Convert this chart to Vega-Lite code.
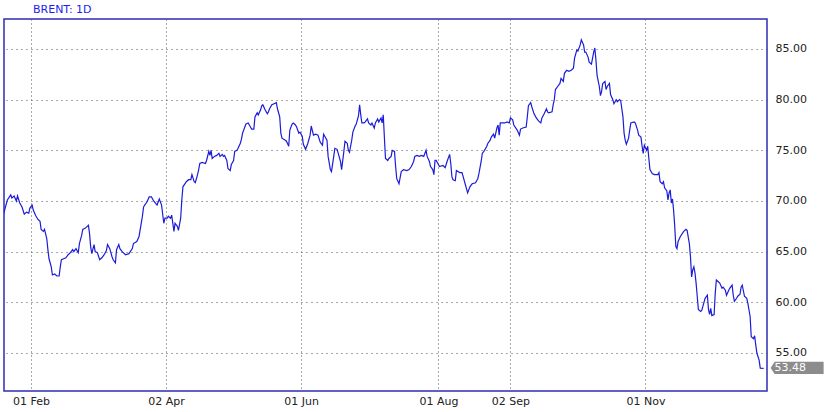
{
  "$schema": "https://vega.github.io/schema/vega-lite/v6.json",
  "width": 763,
  "height": 372,
  "autosize": {"type": "none"},
  "padding": {"left": 4, "top": 19, "right": 63, "bottom": 21},
  "background": "#ffffff",
  "title": {"text": "BRENT: 1D", "anchor": "start", "dx": 29, "offset": 4, "fontSize": 11, "fontWeight": "normal", "color": "#1d1df0", "font": "DejaVu Sans"},
  "config": {"view": {"stroke": "#2c2cb4", "strokeWidth": 1.5}, "font": "DejaVu Sans"},
  "data": {"values": [
    {"date": "2018-01-20T00:00", "price": 68.8},
    {"date": "2018-01-20T12:00", "price": 69.3},
    {"date": "2018-01-21T12:00", "price": 70.1},
    {"date": "2018-01-23T00:00", "price": 70.6},
    {"date": "2018-01-23T12:00", "price": 70.3},
    {"date": "2018-01-24T12:00", "price": 70.5},
    {"date": "2018-01-25T12:00", "price": 70.0},
    {"date": "2018-01-26T00:00", "price": 70.5},
    {"date": "2018-01-27T00:00", "price": 69.8},
    {"date": "2018-01-28T00:00", "price": 69.4},
    {"date": "2018-01-29T00:00", "price": 68.7},
    {"date": "2018-01-30T00:00", "price": 68.9},
    {"date": "2018-01-31T00:00", "price": 68.8},
    {"date": "2018-01-31T12:00", "price": 69.3},
    {"date": "2018-02-01T12:00", "price": 69.6},
    {"date": "2018-02-02T00:00", "price": 69.1},
    {"date": "2018-02-03T00:00", "price": 68.6},
    {"date": "2018-02-04T00:00", "price": 68.2},
    {"date": "2018-02-05T00:00", "price": 68.0},
    {"date": "2018-02-05T12:00", "price": 67.2},
    {"date": "2018-02-06T12:00", "price": 67.0},
    {"date": "2018-02-07T00:00", "price": 67.2},
    {"date": "2018-02-08T00:00", "price": 66.3},
    {"date": "2018-02-08T12:00", "price": 65.2},
    {"date": "2018-02-09T00:00", "price": 64.3},
    {"date": "2018-02-10T00:00", "price": 63.5},
    {"date": "2018-02-10T12:00", "price": 62.7},
    {"date": "2018-02-11T12:00", "price": 62.8},
    {"date": "2018-02-12T12:00", "price": 62.6},
    {"date": "2018-02-13T12:00", "price": 62.6},
    {"date": "2018-02-14T00:00", "price": 63.5},
    {"date": "2018-02-14T12:00", "price": 64.2},
    {"date": "2018-02-15T12:00", "price": 64.3},
    {"date": "2018-02-16T12:00", "price": 64.4},
    {"date": "2018-02-17T12:00", "price": 64.7},
    {"date": "2018-02-18T12:00", "price": 64.9},
    {"date": "2018-02-19T12:00", "price": 65.2},
    {"date": "2018-02-20T00:00", "price": 65.0},
    {"date": "2018-02-21T00:00", "price": 65.3},
    {"date": "2018-02-22T00:00", "price": 64.9},
    {"date": "2018-02-22T12:00", "price": 65.8},
    {"date": "2018-02-23T12:00", "price": 66.6},
    {"date": "2018-02-24T00:00", "price": 67.2},
    {"date": "2018-02-25T00:00", "price": 67.3},
    {"date": "2018-02-26T00:00", "price": 67.5},
    {"date": "2018-02-26T12:00", "price": 67.6},
    {"date": "2018-02-27T00:00", "price": 66.8},
    {"date": "2018-02-27T12:00", "price": 65.5},
    {"date": "2018-02-28T00:00", "price": 64.8},
    {"date": "2018-03-01T00:00", "price": 65.7},
    {"date": "2018-03-01T12:00", "price": 65.0},
    {"date": "2018-03-02T12:00", "price": 64.9},
    {"date": "2018-03-03T12:00", "price": 64.2},
    {"date": "2018-03-04T12:00", "price": 64.4},
    {"date": "2018-03-05T12:00", "price": 64.7},
    {"date": "2018-03-06T12:00", "price": 65.1},
    {"date": "2018-03-07T00:00", "price": 65.7},
    {"date": "2018-03-08T00:00", "price": 65.3},
    {"date": "2018-03-09T00:00", "price": 64.5},
    {"date": "2018-03-09T12:00", "price": 64.2},
    {"date": "2018-03-10T12:00", "price": 63.9},
    {"date": "2018-03-11T00:00", "price": 65.2},
    {"date": "2018-03-12T00:00", "price": 65.7},
    {"date": "2018-03-12T12:00", "price": 65.3},
    {"date": "2018-03-13T12:00", "price": 65.0},
    {"date": "2018-03-15T00:00", "price": 64.7},
    {"date": "2018-03-16T12:00", "price": 64.8},
    {"date": "2018-03-18T00:00", "price": 65.3},
    {"date": "2018-03-18T12:00", "price": 65.8},
    {"date": "2018-03-20T00:00", "price": 66.0},
    {"date": "2018-03-21T00:00", "price": 66.5},
    {"date": "2018-03-22T12:00", "price": 68.5},
    {"date": "2018-03-23T00:00", "price": 69.4},
    {"date": "2018-03-23T12:00", "price": 69.6},
    {"date": "2018-03-24T12:00", "price": 69.9},
    {"date": "2018-03-25T12:00", "price": 70.4},
    {"date": "2018-03-26T12:00", "price": 70.4},
    {"date": "2018-03-27T12:00", "price": 70.0},
    {"date": "2018-03-29T00:00", "price": 69.6},
    {"date": "2018-03-30T00:00", "price": 70.2},
    {"date": "2018-03-31T00:00", "price": 69.6},
    {"date": "2018-04-01T00:00", "price": 67.8},
    {"date": "2018-04-01T12:00", "price": 68.3},
    {"date": "2018-04-02T12:00", "price": 68.3},
    {"date": "2018-04-03T00:00", "price": 68.5},
    {"date": "2018-04-04T00:00", "price": 68.3},
    {"date": "2018-04-04T12:00", "price": 68.6},
    {"date": "2018-04-05T12:00", "price": 67.0},
    {"date": "2018-04-06T00:00", "price": 67.8},
    {"date": "2018-04-07T00:00", "price": 67.5},
    {"date": "2018-04-07T12:00", "price": 67.1},
    {"date": "2018-04-08T12:00", "price": 68.3},
    {"date": "2018-04-09T00:00", "price": 70.1},
    {"date": "2018-04-09T12:00", "price": 71.4},
    {"date": "2018-04-11T00:00", "price": 71.9},
    {"date": "2018-04-12T00:00", "price": 72.1},
    {"date": "2018-04-13T00:00", "price": 72.1},
    {"date": "2018-04-13T12:00", "price": 72.6},
    {"date": "2018-04-14T12:00", "price": 71.9},
    {"date": "2018-04-15T00:00", "price": 71.8},
    {"date": "2018-04-16T00:00", "price": 72.6},
    {"date": "2018-04-16T12:00", "price": 73.1},
    {"date": "2018-04-17T00:00", "price": 73.7},
    {"date": "2018-04-18T00:00", "price": 73.8},
    {"date": "2018-04-19T12:00", "price": 73.7},
    {"date": "2018-04-20T00:00", "price": 74.0},
    {"date": "2018-04-21T00:00", "price": 74.9},
    {"date": "2018-04-21T12:00", "price": 74.5},
    {"date": "2018-04-22T00:00", "price": 75.0},
    {"date": "2018-04-22T12:00", "price": 74.2},
    {"date": "2018-04-23T12:00", "price": 74.4},
    {"date": "2018-04-24T12:00", "price": 74.5},
    {"date": "2018-04-25T12:00", "price": 74.7},
    {"date": "2018-04-26T00:00", "price": 74.4},
    {"date": "2018-04-27T00:00", "price": 74.6},
    {"date": "2018-04-27T12:00", "price": 74.4},
    {"date": "2018-04-28T00:00", "price": 74.5},
    {"date": "2018-04-29T00:00", "price": 74.0},
    {"date": "2018-04-29T12:00", "price": 73.2},
    {"date": "2018-04-30T12:00", "price": 73.0},
    {"date": "2018-05-01T00:00", "price": 73.6},
    {"date": "2018-05-02T00:00", "price": 74.0},
    {"date": "2018-05-02T12:00", "price": 74.9},
    {"date": "2018-05-03T12:00", "price": 75.0},
    {"date": "2018-05-04T00:00", "price": 75.2},
    {"date": "2018-05-05T00:00", "price": 75.7},
    {"date": "2018-05-05T12:00", "price": 76.1},
    {"date": "2018-05-06T00:00", "price": 76.7},
    {"date": "2018-05-07T00:00", "price": 77.3},
    {"date": "2018-05-07T12:00", "price": 77.6},
    {"date": "2018-05-08T12:00", "price": 77.7},
    {"date": "2018-05-09T12:00", "price": 77.3},
    {"date": "2018-05-10T00:00", "price": 77.1},
    {"date": "2018-05-11T00:00", "price": 77.1},
    {"date": "2018-05-11T12:00", "price": 78.3},
    {"date": "2018-05-12T12:00", "price": 78.7},
    {"date": "2018-05-13T00:00", "price": 78.5},
    {"date": "2018-05-14T00:00", "price": 79.0},
    {"date": "2018-05-14T12:00", "price": 79.4},
    {"date": "2018-05-15T00:00", "price": 79.5},
    {"date": "2018-05-16T00:00", "price": 79.0},
    {"date": "2018-05-17T00:00", "price": 78.6},
    {"date": "2018-05-17T12:00", "price": 78.8},
    {"date": "2018-05-18T00:00", "price": 79.1},
    {"date": "2018-05-19T00:00", "price": 79.5},
    {"date": "2018-05-20T00:00", "price": 79.6},
    {"date": "2018-05-21T00:00", "price": 79.7},
    {"date": "2018-05-21T12:00", "price": 79.1},
    {"date": "2018-05-22T12:00", "price": 78.3},
    {"date": "2018-05-23T00:00", "price": 76.7},
    {"date": "2018-05-23T12:00", "price": 76.2},
    {"date": "2018-05-25T00:00", "price": 76.0},
    {"date": "2018-05-25T12:00", "price": 75.9},
    {"date": "2018-05-26T12:00", "price": 75.4},
    {"date": "2018-05-27T00:00", "price": 77.0},
    {"date": "2018-05-28T00:00", "price": 77.6},
    {"date": "2018-05-28T12:00", "price": 77.7},
    {"date": "2018-05-29T12:00", "price": 77.5},
    {"date": "2018-05-30T00:00", "price": 77.3},
    {"date": "2018-05-31T00:00", "price": 76.7},
    {"date": "2018-05-31T12:00", "price": 76.8},
    {"date": "2018-06-01T12:00", "price": 76.4},
    {"date": "2018-06-02T00:00", "price": 75.6},
    {"date": "2018-06-03T00:00", "price": 75.1},
    {"date": "2018-06-04T00:00", "price": 75.7},
    {"date": "2018-06-05T00:00", "price": 76.5},
    {"date": "2018-06-05T12:00", "price": 77.4},
    {"date": "2018-06-06T12:00", "price": 76.5},
    {"date": "2018-06-07T12:00", "price": 76.6},
    {"date": "2018-06-08T12:00", "price": 76.5},
    {"date": "2018-06-09T12:00", "price": 75.8},
    {"date": "2018-06-10T12:00", "price": 75.5},
    {"date": "2018-06-11T00:00", "price": 76.6},
    {"date": "2018-06-12T00:00", "price": 76.2},
    {"date": "2018-06-12T12:00", "price": 76.0},
    {"date": "2018-06-13T00:00", "price": 74.4},
    {"date": "2018-06-14T00:00", "price": 73.1},
    {"date": "2018-06-14T12:00", "price": 72.9},
    {"date": "2018-06-15T12:00", "price": 74.4},
    {"date": "2018-06-16T00:00", "price": 75.2},
    {"date": "2018-06-17T00:00", "price": 75.1},
    {"date": "2018-06-17T12:00", "price": 74.7},
    {"date": "2018-06-18T12:00", "price": 73.9},
    {"date": "2018-06-19T00:00", "price": 73.1},
    {"date": "2018-06-20T00:00", "price": 74.9},
    {"date": "2018-06-20T12:00", "price": 75.9},
    {"date": "2018-06-21T12:00", "price": 75.7},
    {"date": "2018-06-22T00:00", "price": 75.0},
    {"date": "2018-06-22T12:00", "price": 74.8},
    {"date": "2018-06-23T12:00", "price": 76.0},
    {"date": "2018-06-24T00:00", "price": 76.8},
    {"date": "2018-06-25T00:00", "price": 77.4},
    {"date": "2018-06-25T12:00", "price": 77.6},
    {"date": "2018-06-26T12:00", "price": 78.4},
    {"date": "2018-06-27T00:00", "price": 79.5},
    {"date": "2018-06-27T12:00", "price": 78.5},
    {"date": "2018-06-28T00:00", "price": 77.7},
    {"date": "2018-06-29T00:00", "price": 77.7},
    {"date": "2018-06-29T12:00", "price": 77.8},
    {"date": "2018-06-30T12:00", "price": 78.1},
    {"date": "2018-07-01T00:00", "price": 77.7},
    {"date": "2018-07-02T00:00", "price": 77.5},
    {"date": "2018-07-02T12:00", "price": 77.7},
    {"date": "2018-07-03T12:00", "price": 77.2},
    {"date": "2018-07-04T00:00", "price": 77.7},
    {"date": "2018-07-05T00:00", "price": 78.1},
    {"date": "2018-07-05T12:00", "price": 77.8},
    {"date": "2018-07-06T12:00", "price": 78.2},
    {"date": "2018-07-07T00:00", "price": 77.7},
    {"date": "2018-07-07T12:00", "price": 78.5},
    {"date": "2018-07-08T00:00", "price": 76.3},
    {"date": "2018-07-08T12:00", "price": 74.2},
    {"date": "2018-07-09T12:00", "price": 74.0},
    {"date": "2018-07-10T00:00", "price": 74.2},
    {"date": "2018-07-11T00:00", "price": 74.4},
    {"date": "2018-07-11T12:00", "price": 75.0},
    {"date": "2018-07-12T12:00", "price": 74.9},
    {"date": "2018-07-13T00:00", "price": 73.4},
    {"date": "2018-07-13T12:00", "price": 72.2},
    {"date": "2018-07-14T12:00", "price": 71.7},
    {"date": "2018-07-15T00:00", "price": 72.3},
    {"date": "2018-07-15T12:00", "price": 72.9},
    {"date": "2018-07-16T12:00", "price": 73.1},
    {"date": "2018-07-18T00:00", "price": 73.0},
    {"date": "2018-07-19T00:00", "price": 73.1},
    {"date": "2018-07-20T00:00", "price": 73.4},
    {"date": "2018-07-21T00:00", "price": 73.9},
    {"date": "2018-07-21T12:00", "price": 74.4},
    {"date": "2018-07-22T12:00", "price": 74.5},
    {"date": "2018-07-23T12:00", "price": 74.4},
    {"date": "2018-07-24T12:00", "price": 74.5},
    {"date": "2018-07-25T12:00", "price": 74.4},
    {"date": "2018-07-26T12:00", "price": 75.0},
    {"date": "2018-07-27T00:00", "price": 74.4},
    {"date": "2018-07-28T00:00", "price": 73.9},
    {"date": "2018-07-28T12:00", "price": 73.4},
    {"date": "2018-07-29T12:00", "price": 73.1},
    {"date": "2018-07-30T00:00", "price": 72.6},
    {"date": "2018-07-30T12:00", "price": 74.0},
    {"date": "2018-07-31T00:00", "price": 74.0},
    {"date": "2018-08-01T00:00", "price": 73.6},
    {"date": "2018-08-01T12:00", "price": 73.4},
    {"date": "2018-08-03T00:00", "price": 73.5},
    {"date": "2018-08-04T00:00", "price": 73.3},
    {"date": "2018-08-05T00:00", "price": 74.0},
    {"date": "2018-08-06T00:00", "price": 74.6},
    {"date": "2018-08-06T12:00", "price": 73.7},
    {"date": "2018-08-07T00:00", "price": 72.4},
    {"date": "2018-08-07T12:00", "price": 72.1},
    {"date": "2018-08-08T12:00", "price": 72.0},
    {"date": "2018-08-09T00:00", "price": 73.0},
    {"date": "2018-08-10T12:00", "price": 72.8},
    {"date": "2018-08-11T12:00", "price": 72.8},
    {"date": "2018-08-12T00:00", "price": 72.4},
    {"date": "2018-08-13T00:00", "price": 71.6},
    {"date": "2018-08-13T12:00", "price": 71.2},
    {"date": "2018-08-14T00:00", "price": 70.8},
    {"date": "2018-08-15T00:00", "price": 71.4},
    {"date": "2018-08-16T00:00", "price": 71.7},
    {"date": "2018-08-17T12:00", "price": 71.8},
    {"date": "2018-08-18T12:00", "price": 72.2},
    {"date": "2018-08-19T00:00", "price": 72.7},
    {"date": "2018-08-20T00:00", "price": 73.9},
    {"date": "2018-08-20T12:00", "price": 74.7},
    {"date": "2018-08-21T12:00", "price": 75.0},
    {"date": "2018-08-22T12:00", "price": 75.4},
    {"date": "2018-08-23T00:00", "price": 75.7},
    {"date": "2018-08-24T00:00", "price": 76.0},
    {"date": "2018-08-24T12:00", "price": 76.3},
    {"date": "2018-08-25T12:00", "price": 76.6},
    {"date": "2018-08-26T00:00", "price": 76.2},
    {"date": "2018-08-27T00:00", "price": 77.2},
    {"date": "2018-08-27T12:00", "price": 77.5},
    {"date": "2018-08-28T00:00", "price": 76.5},
    {"date": "2018-08-28T12:00", "price": 77.7},
    {"date": "2018-08-29T00:00", "price": 77.7},
    {"date": "2018-08-30T12:00", "price": 77.7},
    {"date": "2018-08-31T12:00", "price": 77.8},
    {"date": "2018-09-01T12:00", "price": 77.7},
    {"date": "2018-09-02T00:00", "price": 78.2},
    {"date": "2018-09-03T00:00", "price": 78.0},
    {"date": "2018-09-03T12:00", "price": 77.5},
    {"date": "2018-09-05T00:00", "price": 77.0},
    {"date": "2018-09-06T00:00", "price": 76.5},
    {"date": "2018-09-06T12:00", "price": 77.1},
    {"date": "2018-09-07T12:00", "price": 77.2},
    {"date": "2018-09-09T00:00", "price": 77.3},
    {"date": "2018-09-09T12:00", "price": 78.3},
    {"date": "2018-09-10T00:00", "price": 79.4},
    {"date": "2018-09-11T00:00", "price": 79.7},
    {"date": "2018-09-11T12:00", "price": 79.3},
    {"date": "2018-09-12T12:00", "price": 78.6},
    {"date": "2018-09-13T12:00", "price": 78.2},
    {"date": "2018-09-14T12:00", "price": 77.9},
    {"date": "2018-09-15T12:00", "price": 77.7},
    {"date": "2018-09-16T00:00", "price": 78.2},
    {"date": "2018-09-17T00:00", "price": 78.6},
    {"date": "2018-09-18T00:00", "price": 79.1},
    {"date": "2018-09-18T12:00", "price": 78.8},
    {"date": "2018-09-19T00:00", "price": 78.7},
    {"date": "2018-09-20T12:00", "price": 78.8},
    {"date": "2018-09-21T00:00", "price": 79.5},
    {"date": "2018-09-21T12:00", "price": 80.0},
    {"date": "2018-09-22T00:00", "price": 81.0},
    {"date": "2018-09-23T00:00", "price": 81.3},
    {"date": "2018-09-24T00:00", "price": 81.6},
    {"date": "2018-09-24T12:00", "price": 82.1},
    {"date": "2018-09-25T12:00", "price": 81.8},
    {"date": "2018-09-26T00:00", "price": 82.6},
    {"date": "2018-09-27T00:00", "price": 82.9},
    {"date": "2018-09-28T00:00", "price": 82.8},
    {"date": "2018-09-29T00:00", "price": 82.9},
    {"date": "2018-09-30T00:00", "price": 83.1},
    {"date": "2018-09-30T12:00", "price": 84.1},
    {"date": "2018-10-01T12:00", "price": 84.9},
    {"date": "2018-10-02T00:00", "price": 84.8},
    {"date": "2018-10-03T00:00", "price": 85.4},
    {"date": "2018-10-03T12:00", "price": 85.9},
    {"date": "2018-10-04T12:00", "price": 85.4},
    {"date": "2018-10-05T00:00", "price": 84.7},
    {"date": "2018-10-05T12:00", "price": 84.7},
    {"date": "2018-10-06T12:00", "price": 84.2},
    {"date": "2018-10-07T00:00", "price": 83.7},
    {"date": "2018-10-08T00:00", "price": 83.5},
    {"date": "2018-10-08T12:00", "price": 84.1},
    {"date": "2018-10-09T00:00", "price": 84.7},
    {"date": "2018-10-09T12:00", "price": 85.1},
    {"date": "2018-10-10T00:00", "price": 83.9},
    {"date": "2018-10-10T12:00", "price": 82.4},
    {"date": "2018-10-11T12:00", "price": 81.3},
    {"date": "2018-10-12T00:00", "price": 80.4},
    {"date": "2018-10-12T12:00", "price": 80.8},
    {"date": "2018-10-13T00:00", "price": 81.6},
    {"date": "2018-10-14T00:00", "price": 81.8},
    {"date": "2018-10-14T12:00", "price": 81.0},
    {"date": "2018-10-15T00:00", "price": 81.3},
    {"date": "2018-10-16T00:00", "price": 81.6},
    {"date": "2018-10-16T12:00", "price": 80.5},
    {"date": "2018-10-17T12:00", "price": 80.0},
    {"date": "2018-10-18T00:00", "price": 79.6},
    {"date": "2018-10-19T00:00", "price": 80.0},
    {"date": "2018-10-19T12:00", "price": 79.8},
    {"date": "2018-10-20T12:00", "price": 80.0},
    {"date": "2018-10-21T00:00", "price": 79.9},
    {"date": "2018-10-22T00:00", "price": 78.3},
    {"date": "2018-10-22T12:00", "price": 76.7},
    {"date": "2018-10-23T00:00", "price": 76.0},
    {"date": "2018-10-23T12:00", "price": 75.6},
    {"date": "2018-10-24T12:00", "price": 76.2},
    {"date": "2018-10-25T00:00", "price": 77.0},
    {"date": "2018-10-25T12:00", "price": 77.7},
    {"date": "2018-10-27T00:00", "price": 77.8},
    {"date": "2018-10-27T12:00", "price": 77.7},
    {"date": "2018-10-28T12:00", "price": 77.0},
    {"date": "2018-10-29T00:00", "price": 76.5},
    {"date": "2018-10-30T00:00", "price": 76.3},
    {"date": "2018-10-30T12:00", "price": 75.4},
    {"date": "2018-10-31T00:00", "price": 74.7},
    {"date": "2018-10-31T12:00", "price": 75.5},
    {"date": "2018-11-01T12:00", "price": 75.0},
    {"date": "2018-11-02T00:00", "price": 75.4},
    {"date": "2018-11-02T12:00", "price": 74.2},
    {"date": "2018-11-03T00:00", "price": 73.1},
    {"date": "2018-11-04T00:00", "price": 72.7},
    {"date": "2018-11-05T00:00", "price": 72.6},
    {"date": "2018-11-06T12:00", "price": 72.6},
    {"date": "2018-11-07T00:00", "price": 72.8},
    {"date": "2018-11-07T12:00", "price": 71.9},
    {"date": "2018-11-08T12:00", "price": 71.7},
    {"date": "2018-11-09T00:00", "price": 71.9},
    {"date": "2018-11-09T12:00", "price": 71.3},
    {"date": "2018-11-10T12:00", "price": 71.0},
    {"date": "2018-11-11T00:00", "price": 70.1},
    {"date": "2018-11-11T12:00", "price": 70.8},
    {"date": "2018-11-12T00:00", "price": 71.1},
    {"date": "2018-11-12T12:00", "price": 69.8},
    {"date": "2018-11-13T00:00", "price": 70.2},
    {"date": "2018-11-13T12:00", "price": 69.1},
    {"date": "2018-11-14T00:00", "price": 67.5},
    {"date": "2018-11-14T12:00", "price": 65.5},
    {"date": "2018-11-15T00:00", "price": 65.3},
    {"date": "2018-11-15T12:00", "price": 66.0},
    {"date": "2018-11-16T12:00", "price": 66.5},
    {"date": "2018-11-18T00:00", "price": 67.0},
    {"date": "2018-11-19T00:00", "price": 67.2},
    {"date": "2018-11-19T12:00", "price": 67.1},
    {"date": "2018-11-20T12:00", "price": 65.8},
    {"date": "2018-11-21T00:00", "price": 64.5},
    {"date": "2018-11-21T12:00", "price": 62.5},
    {"date": "2018-11-22T00:00", "price": 63.2},
    {"date": "2018-11-22T12:00", "price": 63.5},
    {"date": "2018-11-23T00:00", "price": 62.9},
    {"date": "2018-11-23T12:00", "price": 61.9},
    {"date": "2018-11-24T00:00", "price": 60.6},
    {"date": "2018-11-24T12:00", "price": 59.3},
    {"date": "2018-11-25T12:00", "price": 59.1},
    {"date": "2018-11-26T00:00", "price": 59.2},
    {"date": "2018-11-26T12:00", "price": 59.6},
    {"date": "2018-11-27T12:00", "price": 60.4},
    {"date": "2018-11-28T12:00", "price": 60.7},
    {"date": "2018-11-29T00:00", "price": 59.3},
    {"date": "2018-11-29T12:00", "price": 58.8},
    {"date": "2018-11-30T00:00", "price": 59.4},
    {"date": "2018-11-30T12:00", "price": 58.7},
    {"date": "2018-12-01T12:00", "price": 58.8},
    {"date": "2018-12-02T00:00", "price": 60.9},
    {"date": "2018-12-02T12:00", "price": 62.2},
    {"date": "2018-12-03T12:00", "price": 62.0},
    {"date": "2018-12-04T00:00", "price": 61.9},
    {"date": "2018-12-05T00:00", "price": 61.4},
    {"date": "2018-12-05T12:00", "price": 61.5},
    {"date": "2018-12-06T12:00", "price": 61.2},
    {"date": "2018-12-07T00:00", "price": 60.7},
    {"date": "2018-12-08T00:00", "price": 61.2},
    {"date": "2018-12-08T12:00", "price": 61.4},
    {"date": "2018-12-09T12:00", "price": 61.7},
    {"date": "2018-12-10T00:00", "price": 60.7},
    {"date": "2018-12-10T12:00", "price": 60.1},
    {"date": "2018-12-11T12:00", "price": 60.4},
    {"date": "2018-12-12T00:00", "price": 60.6},
    {"date": "2018-12-13T00:00", "price": 60.8},
    {"date": "2018-12-13T12:00", "price": 61.5},
    {"date": "2018-12-14T00:00", "price": 61.7},
    {"date": "2018-12-15T00:00", "price": 60.6},
    {"date": "2018-12-16T00:00", "price": 60.4},
    {"date": "2018-12-16T12:00", "price": 59.9},
    {"date": "2018-12-17T12:00", "price": 58.6},
    {"date": "2018-12-18T00:00", "price": 56.6},
    {"date": "2018-12-19T00:00", "price": 56.4},
    {"date": "2018-12-19T12:00", "price": 56.7},
    {"date": "2018-12-20T00:00", "price": 55.8},
    {"date": "2018-12-20T12:00", "price": 55.0},
    {"date": "2018-12-21T12:00", "price": 54.3},
    {"date": "2018-12-22T00:00", "price": 53.5},
    {"date": "2018-12-23T12:00", "price": 53.48}
  ]},
  "encoding": {
    "x": {
      "field": "date", "type": "temporal",
      "scale": {"domain": [{"year": 2018, "month": 1, "date": 20}, {"year": 2018, "month": 12, "date": 25}], "nice": false},
      "axis": {
        "title": null, "orient": "bottom",
        "values": [{"year": 2018, "month": 2, "date": 1}, {"year": 2018, "month": 4, "date": 2}, {"year": 2018, "month": 6, "date": 1}, {"year": 2018, "month": 8, "date": 1}, {"year": 2018, "month": 9, "date": 2}, {"year": 2018, "month": 11, "date": 1}],
        "format": "%d %b", "grid": true, "gridDash": [1, 3], "gridColor": "#555555", "gridWidth": 1,
        "ticks": false, "tickSize": 0, "domain": false,
        "labelFont": "DejaVu Sans", "labelFontSize": 11, "labelColor": "#222222", "labelPadding": 4, "labelFlush": false, "labelOverlap": false
      }
    },
    "y": {
      "field": "price", "type": "quantitative",
      "scale": {"domain": [51.25, 87.96], "nice": false, "zero": false},
      "axis": {
        "title": null, "orient": "right",
        "values": [55, 60, 65, 70, 75, 80, 85],
        "format": ".2f", "grid": true, "gridDash": [1, 4], "gridColor": "#555555", "gridWidth": 1,
        "ticks": false, "tickSize": 0, "domain": false,
        "labelFont": "DejaVu Sans", "labelFontSize": 11, "labelColor": "#222222", "labelPadding": 8, "labelFlush": false, "labelOverlap": false
      }
    }
  },
  "layer": [
    {"mark": {"type": "line", "color": "#1c1cd8", "strokeWidth": 1.2, "clip": true}},
    {
      "transform": [{"window": [{"op": "row_number", "as": "rank"}], "sort": [{"field": "date", "order": "descending"}]}, {"filter": "datum.rank == 1"}],
      "mark": {"type": "point", "shape": "M-1,0L-0.85,-0.23L1,-0.23L1,0.23L-0.85,0.23Z", "size": 2809, "filled": true, "fill": "#8c8c8c", "opacity": 1, "strokeWidth": 0, "xOffset": 33.5, "yOffset": -0.5}
    },
    {
      "transform": [{"window": [{"op": "row_number", "as": "rank"}], "sort": [{"field": "date", "order": "descending"}]}, {"filter": "datum.rank == 1"}],
      "mark": {"type": "text", "color": "#ffffff", "font": "DejaVu Sans", "fontSize": 11, "align": "left", "baseline": "middle", "xOffset": 11, "yOffset": -0.5},
      "encoding": {"text": {"field": "price", "type": "quantitative", "format": ".2f"}}
    }
  ]
}
